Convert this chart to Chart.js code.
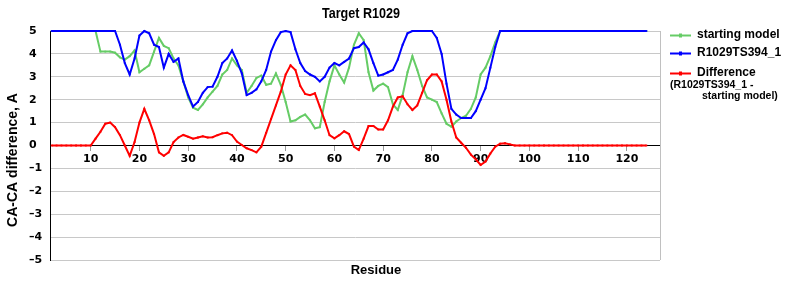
<!DOCTYPE html>
<html>
<head>
<meta charset="utf-8">
<script src="https://cdn.jsdelivr.net/npm/chart.js@4.4.0/dist/chart.umd.min.js"></script>
<style>
  html, body { margin: 0; padding: 0; background: #fff; }
</style>
</head>
<body>
<canvas id="diffChart" width="800" height="300"></canvas>
<script>
// residue numbers along the x axis
const residues = Array.from({ length: 123 }, (_, i) => i + 2);

// CA-CA difference, starting model
const startingModel = [
  5, 5, 5, 5, 5, 5, 5, 5, 5, 5,
  4.1, 4.1, 4.1, 4.05, 3.85, 3.75, 3.9, 4.15, 3.2, 3.35,
  3.5, 4.1, 4.7, 4.35, 4.25, 3.8, 3.5, 2.8, 2.1, 1.65,
  1.55, 1.8, 2.1, 2.35, 2.6, 3.1, 3.3, 3.8, 3.5, 3.3,
  2.3, 2.6, 2.95, 3.05, 2.65, 2.7, 3.15, 2.65, 1.9, 1.05,
  1.1, 1.25, 1.35, 1.1, 0.75, 0.8, 1.9, 2.8, 3.5, 3.1,
  2.75, 3.4, 4.4, 4.9, 4.6, 3.2, 2.4, 2.6, 2.7, 2.55,
  1.8, 1.55, 2.2, 3.2, 3.9, 3.3, 2.6, 2.1, 2.0, 1.9,
  1.4, 0.95, 0.82, 1.05, 1.2, 1.3, 1.6, 2.1, 3.1, 3.4,
  3.9, 4.5, 5,
  5, 5, 5, 5, 5, 5, 5, 5, 5, 5,
  5, 5, 5, 5, 5, 5, 5, 5, 5, 5,
  5, 5, 5, 5, 5, 5, 5, 5, 5, 5
];

// CA-CA difference, R1029TS394_1
const model394 = [
  5, 5, 5, 5, 5, 5, 5, 5, 5, 5, 5, 5, 5, 5,
  4.4, 3.6, 3.1, 3.8, 4.8, 5, 4.9, 4.4, 4.3, 3.4,
  4.0, 3.65, 3.8, 2.8, 2.2, 1.7, 1.9, 2.3, 2.55, 2.57,
  3.0, 3.6, 3.8, 4.15, 3.7, 3.15, 2.2, 2.3, 2.45, 2.8,
  3.3, 4.1, 4.6, 4.95, 5, 4.95, 4.2, 3.6, 3.25, 3.1,
  3.0, 2.8, 3.0, 3.4, 3.6, 3.5, 3.65, 3.8, 4.25, 4.3,
  4.5, 4.2, 3.6, 3.05, 3.1, 3.2, 3.3, 3.75, 4.4, 4.9,
  5, 5, 5, 5, 5, 4.7, 4.0, 2.7, 1.6, 1.35,
  1.2, 1.2, 1.2, 1.5, 2.0, 2.5, 3.4, 4.3, 5, 5,
  5, 5, 5, 5, 5, 5, 5, 5, 5, 5,
  5, 5, 5, 5, 5, 5, 5, 5, 5, 5,
  5, 5, 5, 5, 5, 5, 5, 5, 5
];

// difference (R1029TS394_1 - starting model)
const difference = [
  0, 0, 0, 0, 0, 0, 0, 0, 0,
  0.3, 0.6, 0.95, 1.0, 0.8, 0.45, 0.0, -0.45, 0.15, 1.0,
  1.6, 1.1, 0.5, -0.3, -0.45, -0.3, 0.15, 0.35, 0.46, 0.38,
  0.3, 0.35, 0.4, 0.35, 0.36, 0.45, 0.53, 0.56, 0.45, 0.17,
  0.02, -0.12, -0.2, -0.3, -0.05, 0.55, 1.15, 1.75, 2.35, 3.1,
  3.5, 3.3, 2.6, 2.25, 2.2, 2.28, 1.7, 1.1, 0.45, 0.31,
  0.45, 0.62, 0.5, -0.05, -0.2, 0.3, 0.85, 0.85, 0.7, 0.7,
  1.1, 1.7, 2.1, 2.15, 1.8, 1.55, 1.75, 2.3, 2.85, 3.1,
  3.1, 2.8, 2.0, 1.05, 0.35, 0.12, -0.1, -0.4, -0.6, -0.85,
  -0.7, -0.35, -0.05, 0.08, 0.1, 0.05, 0, 0, 0, 0,
  0, 0, 0, 0, 0, 0, 0, 0, 0, 0,
  0, 0, 0, 0, 0, 0, 0, 0, 0, 0,
  0, 0, 0, 0
];

const xTicks = [10, 20, 30, 40, 50, 60, 70, 80, 90, 100, 110, 120];
const yTicks = [-5, -4, -3, -2, -1, 0, 1, 2, 3, 4, 5];

const chartTitle = 'Target R1029';
const xTitle = 'Residue';
const yTitle = 'CA-CA difference, A';
const seriesNames = ['starting model', 'R1029TS394_1', 'Difference'];
const diffNote = ['(R1029TS394_1 -', 'starting model)'];

const tickFont = { family: "'DejaVu Sans', sans-serif", size: 11, weight: 'bold' };

function series(values) {
    return residues.map((r, i) => ({ x: r, y: values[i] }));
}

function lineSet(label, values, color, order) {
    return {
        label: label,
        data: series(values),
        borderColor: color,
        backgroundColor: color,
        borderWidth: 2,
        tension: 0,
        clip: 6,
        pointStyle: 'rect',
        pointRadius: 1.3,
        pointBorderWidth: 0,
        pointBackgroundColor: color,
        order: order
    };
}

// title, axis titles, right frame and legend
const decorations = {
    id: 'decorations',
    afterDraw(chart) {
        const { ctx, chartArea: a } = chart;
        ctx.save();
        ctx.strokeStyle = '#c0c0c0';
        ctx.lineWidth = 1;
        ctx.beginPath();
        ctx.moveTo(a.right + 0.5, a.top);
        ctx.lineTo(a.right + 0.5, a.bottom);
        ctx.stroke();

        ctx.fillStyle = '#000';
        ctx.textAlign = 'center';
        ctx.textBaseline = 'middle';
        // narrow title: squeeze a bold face horizontally
        ctx.save();
        ctx.translate(361, 14);
        ctx.scale(0.84, 1);
        ctx.font = "bold 15px 'Liberation Sans', Arial, sans-serif";
        ctx.fillText(chartTitle, 0, 0);
        ctx.restore();

        ctx.font = "bold 13px 'Liberation Sans', Arial, sans-serif";
        ctx.fillText(xTitle, 376, 270);
        ctx.save();
        ctx.translate(13, 160);
        ctx.rotate(-Math.PI / 2);
        ctx.font = "bold 14px 'Liberation Sans', Arial, sans-serif";
        ctx.fillText(yTitle, 0, 0);
        ctx.restore();

        // legend
        const rows = [35, 53, 73];
        const sets = chart.data.datasets;
        ctx.textAlign = 'left';
        seriesNames.forEach((name, i) => {
            const ds = sets.find(d => d.label === name);
            const y = rows[i] + 0.5;
            ctx.strokeStyle = ds.borderColor;
            ctx.lineWidth = 2;
            ctx.beginPath();
            ctx.moveTo(670, y);
            ctx.lineTo(691, y);
            ctx.stroke();
            ctx.fillStyle = ds.borderColor;
            ctx.fillRect(679, y - 2, 3, 4);
            ctx.fillStyle = '#000';
            ctx.font = "bold 12px 'Liberation Sans', Arial, sans-serif";
            ctx.fillText(name, 697, rows[i]);
        });
        ctx.font = "bold 10.5px 'Liberation Sans', Arial, sans-serif";
        ctx.fillText(diffNote[0], 670, 85);
        ctx.fillText(diffNote[1], 702, 96);
        ctx.restore();
    }
};

const ctx = document.getElementById('diffChart').getContext('2d');

const diffChart = new Chart(ctx, {
    type: 'line',
    data: {
        datasets: [
            lineSet(seriesNames[0], startingModel, '#66cc66', 2),
            lineSet(seriesNames[1], model394, '#0000ff', 1),
            lineSet(seriesNames[2], difference, '#ff0000', 0)
        ]
    },
    options: {
        responsive: false,
        animation: false,
        devicePixelRatio: 1,
        layout: { padding: { left: 29, right: 140, top: 31, bottom: 40 } },
        plugins: {
            legend: { display: false },
            tooltip: { enabled: false },
            title: { display: false }
        },
        scales: {
            x: {
                type: 'linear',
                position: { y: 0 },
                min: 1.65,
                max: 126.8,
                afterBuildTicks: s => { s.ticks = xTicks.map(v => ({ value: v })); },
                grid: { drawOnChartArea: false, drawTicks: true, tickLength: 5, tickColor: '#999' },
                border: { display: true, color: '#000', width: 1 },
                ticks: { font: tickFont, color: '#000', padding: 2, maxRotation: 0, autoSkip: false }
            },
            y: {
                min: -5,
                max: 5,
                afterBuildTicks: s => { s.ticks = yTicks.map(v => ({ value: v })); },
                afterFit: s => { s.width = 21; },
                grid: { color: '#c8c8c8', drawTicks: false },
                border: { display: true, color: '#000', width: 1 },
                ticks: {
                    font: tickFont,
                    color: '#000',
                    crossAlign: 'far',
                    padding: 0,
                    callback: v => v < 0 ? '\u2013' + (-v) : String(v)
                }
            }
        }
    },
    plugins: [decorations]
});
</script>
</body>
</html>
